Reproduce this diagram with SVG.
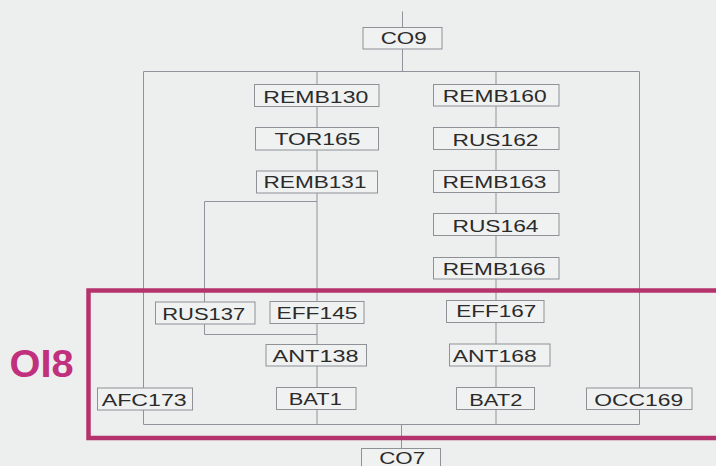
<svg xmlns="http://www.w3.org/2000/svg" width="716" height="466" viewBox="0 0 716 466">
  <style>
    .bg { fill: #edeeee; }
    .box { fill: #f0f1f1; stroke: #8e9296; stroke-width: 1; }
    .lbl { font-family: "Liberation Sans", Arial, sans-serif; font-size: 17px; fill: #2b2b2b; text-anchor: middle; }
    .conn { fill: none; stroke: #8e949a; stroke-width: 1; }
    .zone { fill: none; stroke: #b5336c; stroke-width: 4.5; }
    .zlbl { font-family: "Liberation Sans", Arial, sans-serif; font-size: 38px; font-weight: bold; fill: #c1307c; }
  </style>
  <rect class="bg" x="0" y="0" width="716" height="466"/>

  <g id="connectors">
    <path class="conn" d="M402.5,11.5 V27.5 M402.5,49 V71.5"/>
    <path class="conn" d="M143.5,71.5 H639.5"/>
    <path class="conn" d="M143.5,71.5 V388 M143.5,410 V424.5"/>
    <path class="conn" d="M317,71.5 V424.5"/>
    <path class="conn" d="M317,201.5 H204.5 V334.5 H317"/>
    <path class="conn" d="M496,71.5 V424.5"/>
    <path class="conn" d="M639.5,71.5 V388 M639.5,409.5 V424.5"/>
    <path class="conn" d="M143.5,424.5 H639.5"/>
    <path class="conn" d="M401.5,424.5 V448.5"/>
  </g>

  <g id="CO9"><rect class="box" x="363" y="27.5" width="79" height="21.5"/><text class="lbl" x="403.7" y="44.3" textLength="46" lengthAdjust="spacingAndGlyphs">CO9</text></g>
  <g id="REMB130"><rect class="box" x="254.5" y="84.5" width="124.5" height="22"/><text class="lbl" x="315.8" y="102.7" textLength="105" lengthAdjust="spacingAndGlyphs">REMB130</text></g>
  <g id="TOR165"><rect class="box" x="255.5" y="127.5" width="123" height="22.5"/><text class="lbl" x="317.5" y="145" textLength="86" lengthAdjust="spacingAndGlyphs">TOR165</text></g>
  <g id="REMB131"><rect class="box" x="256.5" y="171" width="121" height="22"/><text class="lbl" x="315" y="188.3" textLength="103" lengthAdjust="spacingAndGlyphs">REMB131</text></g>
  <g id="REMB160"><rect class="box" x="433.5" y="84.5" width="125.5" height="21.5"/><text class="lbl" x="494.7" y="101.7" textLength="104" lengthAdjust="spacingAndGlyphs">REMB160</text></g>
  <g id="RUS162"><rect class="box" x="433.5" y="127.5" width="125.5" height="22"/><text class="lbl" x="495.5" y="145.7" textLength="86" lengthAdjust="spacingAndGlyphs">RUS162</text></g>
  <g id="REMB163"><rect class="box" x="433.5" y="170.5" width="125.5" height="22"/><text class="lbl" x="494.5" y="187.7" textLength="104" lengthAdjust="spacingAndGlyphs">REMB163</text></g>
  <g id="RUS164"><rect class="box" x="433.5" y="213.5" width="125.5" height="22"/><text class="lbl" x="495.5" y="232.3" textLength="86" lengthAdjust="spacingAndGlyphs">RUS164</text></g>
  <g id="REMB166"><rect class="box" x="433.5" y="257.5" width="125.5" height="21.5"/><text class="lbl" x="494.2" y="275" textLength="103" lengthAdjust="spacingAndGlyphs">REMB166</text></g>

  <g id="RUS137"><rect class="box" x="155.5" y="302" width="99.5" height="22"/><text class="lbl" x="203.7" y="320" textLength="83" lengthAdjust="spacingAndGlyphs">RUS137</text></g>
  <g id="EFF145"><rect class="box" x="270" y="301.5" width="94" height="22"/><text class="lbl" x="317" y="319" textLength="81" lengthAdjust="spacingAndGlyphs">EFF145</text></g>
  <g id="EFF167"><rect class="box" x="446.5" y="300.5" width="97.5" height="22"/><text class="lbl" x="496.3" y="317.3" textLength="80" lengthAdjust="spacingAndGlyphs">EFF167</text></g>
  <g id="ANT138"><rect class="box" x="266" y="344.5" width="100.5" height="21.5"/><text class="lbl" x="315.5" y="361.7" textLength="86" lengthAdjust="spacingAndGlyphs">ANT138</text></g>
  <g id="ANT168"><rect class="box" x="449.5" y="344" width="100.5" height="22"/><text class="lbl" x="494.8" y="361.7" textLength="84" lengthAdjust="spacingAndGlyphs">ANT168</text></g>
  <g id="AFC173"><rect class="box" x="97.5" y="388" width="95" height="22"/><text class="lbl" x="144.2" y="405.7" textLength="85" lengthAdjust="spacingAndGlyphs">AFC173</text></g>
  <g id="BAT1"><rect class="box" x="276.5" y="387.5" width="79.5" height="22"/><text class="lbl" x="315.3" y="405" textLength="53" lengthAdjust="spacingAndGlyphs">BAT1</text></g>
  <g id="BAT2"><rect class="box" x="456.5" y="387.5" width="78" height="22"/><text class="lbl" x="495.8" y="405.7" textLength="53" lengthAdjust="spacingAndGlyphs">BAT2</text></g>
  <g id="OCC169"><rect class="box" x="586.5" y="388" width="105.5" height="21.5"/><text class="lbl" x="638.7" y="405.7" textLength="89" lengthAdjust="spacingAndGlyphs">OCC169</text></g>
  <g id="CO7"><rect class="box" x="361.5" y="448.5" width="79" height="24"/><text class="lbl" x="402.2" y="463.5" textLength="46" lengthAdjust="spacingAndGlyphs">CO7</text></g>

  <g id="OI8">
    <rect class="zone" x="88.5" y="290.5" width="660" height="147.5"/>
    <text class="zlbl" x="9.5" y="377.3" textLength="64" lengthAdjust="spacingAndGlyphs">OI8</text>
  </g>
</svg>
